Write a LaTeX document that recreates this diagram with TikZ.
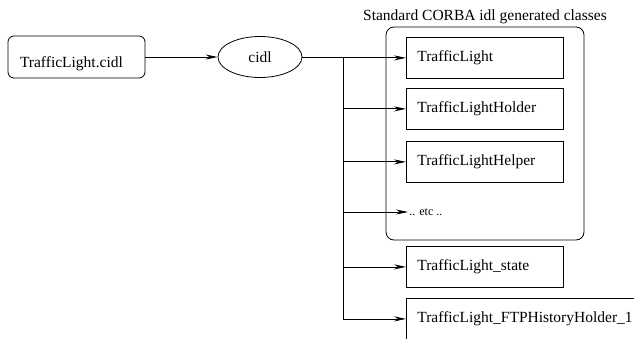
\documentclass[tikz,border=0pt]{standalone}
\usepackage{fontspec}
\setmainfont{Liberation Serif}
\usetikzlibrary{shapes.geometric,arrows.meta}
\tikzset{
  classbox/.style={draw, rectangle, minimum width=157pt, minimum height=41pt,
    text width=135pt, align=left, inner xsep=11pt, anchor=north west},
  flow/.style={-{Stealth[length=12pt,width=5pt]}},
}
\begin{document}
\begin{tikzpicture}[x=1pt,y=-1pt,line width=0.8pt]\tikzstyle{every node} = [font=\fontsize{15.5pt}{18pt}\selectfont]
      \useasboundingbox (0,0) rectangle (634,339);
      \clip (0,0) rectangle (634,339);

      \node[draw, rounded corners=6pt, minimum width=137pt, minimum height=42pt,
        text height=22pt, text depth=0pt, text width=113pt, align=left,
        inner xsep=12pt] (cidlfile) at (76.5,57) {TrafficLight.cidl};
      \node[draw, ellipse, minimum width=84pt, minimum height=41pt, inner sep=0pt] (cidl) at (260,57) {cidl};

      % generated classes
      \node[draw, rounded corners=8pt, minimum width=198pt, minimum height=213pt,
        label={[inner sep=2pt]above:Standard CORBA idl generated classes}] (corba) at (485,133.5) {};
      \node[classbox] (tl) at (406,37) {TrafficLight};
      \node[classbox] (holder) at (406,88) {TrafficLightHolder};
      \node[classbox] (helper) at (406,141) {TrafficLightHelper};
      \node[anchor=west, inner sep=1pt, font=\fontsize{12pt}{14pt}\selectfont] (etc) at (408,212) {.. etc ..};
      \node[classbox] (state) at (406,246) {TrafficLight\_state};
      \node[classbox, minimum width=260pt, text width=238pt] (ftp) at (406,298) {TrafficLight\_FTPHistoryHolder\_1};

      \draw[flow] (cidlfile.east) -- (cidl.west);

      \coordinate (split) at (343,57);
      \draw (cidl.east) -- (split) -- (split |- ftp.west);
      \draw[flow] (split |- tl.west) -- (tl.west);
      \draw[flow] (split |- holder.west) -- (holder.west);
      \draw[flow] (split |- helper.west) -- (helper.west);
      \draw[flow] (split |- etc.west) -- (etc.west);
      \draw[flow] (split |- state.west) -- (state.west);
      \draw[flow] (split |- ftp.west) -- (ftp.west);
    \end{tikzpicture}
\end{document}
